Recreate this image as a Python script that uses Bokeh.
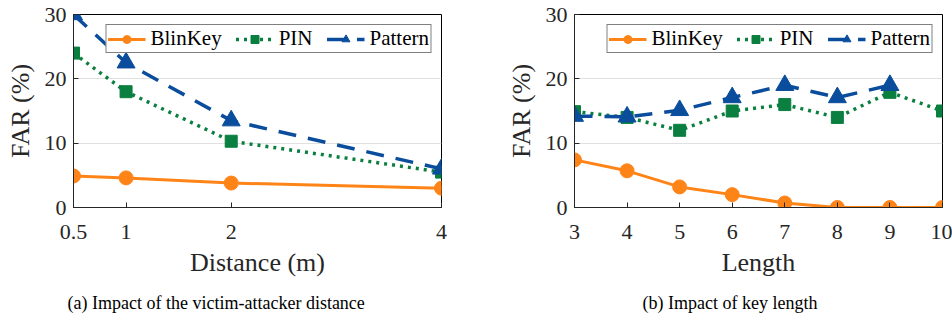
from bokeh.plotting import figure
from bokeh.layouts import row
from bokeh.models import Range1d, FixedTicker, Title
from bokeh.embed import file_html
from bokeh.resources import INLINE

# ---- data ----
distance = [0.5, 1, 2, 4]
dist_blinkey = [4.9, 4.6, 3.8, 3.0]
dist_pin = [24.0, 18.0, 10.3, 5.5]
dist_pattern = [30.0, 22.5, 13.5, 6.0]

length = [3, 4, 5, 6, 7, 8, 9, 10]
len_blinkey = [7.4, 5.7, 3.2, 2.0, 0.7, 0.0, 0.0, 0.0]
len_pin = [14.9, 14.0, 12.0, 15.0, 16.0, 14.0, 17.9, 15.0]
length_pattern = [3, 4, 5, 6, 7, 8, 9]
len_pattern = [14.2, 14.1, 15.1, 17.1, 19.0, 17.1, 19.0]

y_ticks = [0, 10, 20, 30]

ORANGE = "#FF8418"
GREEN = "#0A7F3F"
BLUE = "#0A4D9C"
FONT = "Liberation Serif"
AXC = "#262626"


def make_fig(width, left, right, xr, xticks, xlabel, caption, cap_off,
             xb, yb, xp, yp, xpat, ypat):
    p = figure(width=width, height=331, output_backend="svg", toolbar_location=None,
               x_range=Range1d(*xr), y_range=Range1d(0, 30),
               min_border_left=left, min_border_right=right,
               min_border_top=14, min_border_bottom=124)
    p.outline_line_color = "black"
    p.outline_line_width = 1
    p.xgrid.grid_line_color = None
    p.ygrid.grid_line_color = "#e0e0e0"
    p.ygrid.grid_line_width = 1
    for ax in (p.xaxis[0], p.yaxis[0]):
        ax.major_tick_in = 5
        ax.major_tick_out = 0
        ax.minor_tick_in = 0
        ax.minor_tick_out = 0
        ax.axis_line_color = AXC
        ax.major_tick_line_color = AXC
        ax.major_label_text_font = FONT
        ax.major_label_text_font_size = "22px"
        ax.major_label_text_color = AXC
        ax.axis_label_text_font = FONT
        ax.axis_label_text_font_size = "26px"
        ax.axis_label_text_font_style = "normal"
        ax.axis_label_text_color = AXC
    p.xaxis.ticker = FixedTicker(ticks=xticks)
    p.yaxis.ticker = FixedTicker(ticks=y_ticks)
    p.xaxis.axis_label = xlabel
    p.yaxis.axis_label = "FAR (%)"
    p.xaxis.major_label_standoff = 17
    p.xaxis.axis_label_standoff = 6
    p.yaxis.major_label_standoff = 7
    p.yaxis.axis_label_standoff = 7

    p.line(xb, yb, color=ORANGE, line_width=3, legend_label="BlinKey")
    p.scatter(xb, yb, marker="circle", size=14, color=ORANGE, legend_label="BlinKey")
    p.line(xp, yp, color=GREEN, line_width=3.5, line_dash="3 5", legend_label="PIN")
    p.scatter(xp, yp, marker="square", size=12, color=GREEN, legend_label="PIN")
    p.line(xpat, ypat, color=BLUE, line_width=3.5, line_dash="18 12", legend_label="Pattern")
    p.scatter(xpat, ypat, marker="triangle", size=18, color=BLUE, legend_label="Pattern")

    lg = p.legend[0]
    lg.location = "top_right"
    lg.orientation = "horizontal"
    lg.label_text_font = FONT
    lg.label_text_font_size = "21px"
    lg.label_text_color = "black"
    lg.glyph_width = 38
    lg.glyph_height = 20
    lg.label_standoff = 5
    lg.spacing = 14
    lg.padding = 1
    lg.margin = 10
    lg.border_line_color = "black"
    lg.border_line_width = 1
    lg.background_fill_alpha = 1

    t = Title(text=caption, align="left", offset=cap_off, vertical_align="top",
              text_font=FONT, text_font_size="18px", text_font_style="normal",
              text_color="black", standoff=27)
    p.add_layout(t, "below")
    return p


p1 = make_fig(461, 73, 20, (0.5, 4), distance, "Distance (m)",
              "(a)  Impact of the victim-attacker distance", -6,
              distance, dist_blinkey, distance, dist_pin, distance, dist_pattern)
p2 = make_fig(491, 113, 10, (3, 10), length, "Length",
              "(b)  Impact of key length", 68,
              length, len_blinkey, length, len_pin, length_pattern, len_pattern)

layout = row(p1, p2)
open("out.html", "w").write(file_html(layout, INLINE))
